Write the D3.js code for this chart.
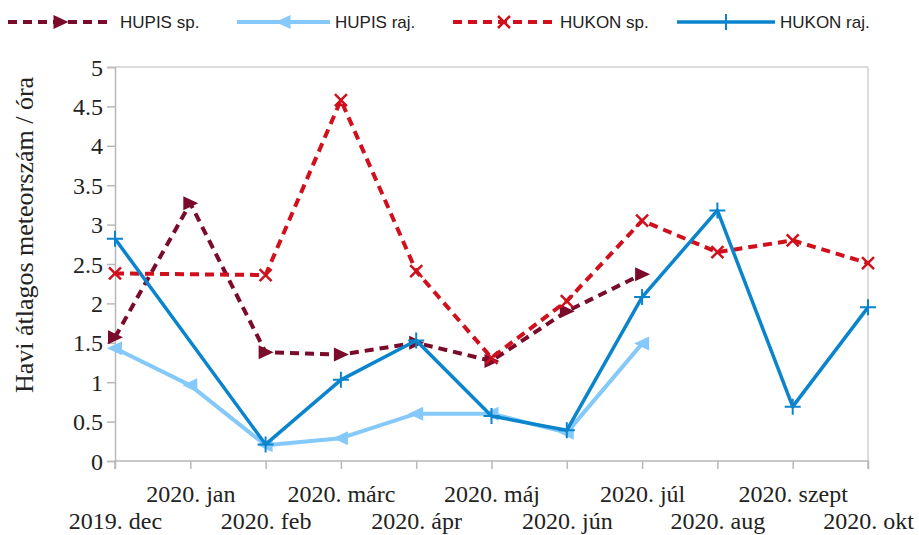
<!DOCTYPE html>
<html><head><meta charset="utf-8">
<script src="https://cdn.jsdelivr.net/npm/d3@7"></script>
<style>body{margin:0;background:#fff}svg{display:block}</style>
</head><body><svg id="c" width="919" height="535"></svg>
<script>
const months = ["2019. dec","2020. jan","2020. feb","2020. márc","2020. ápr","2020. máj","2020. jún","2020. júl","2020. aug","2020. szept","2020. okt"];
const hupisSp  = [1.57, 3.27, 1.38, 1.35, 1.50, 1.27, 1.90, 2.37, null, null, null];
const hupisRaj = [1.43, 0.96, 0.20, 0.29, 0.60, 0.60, 0.36, 1.49, null, null, null];
const hukonSp  = [2.38, null, 2.36, 4.58, 2.41, 1.31, 2.03, 3.05, 2.65, 2.80, 2.51];
const hukonRaj = [2.82, null, 0.21, 1.03, 1.53, 0.57, 0.39, 2.08, 3.18, 0.69, 1.95];
const yTicks = [0,0.5,1,1.5,2,2.5,3,3.5,4,4.5,5];
const yTitle = "Havi átlagos meteorszám / óra";

const series = [
  {name:"HUPIS sp.",  values:hupisSp,  color:"#7a0b2b", dash:"9,6", width:4, marker:"triR"},
  {name:"HUPIS raj.", values:hupisRaj, color:"#85c9fb", dash:null, width:4, marker:"triL"},
  {name:"HUKON sp.",  values:hukonSp,  color:"#d0101c", dash:"9,6", width:4, marker:"x"},
  {name:"HUKON raj.", values:hukonRaj, color:"#0a84cc", dash:null, width:3.5, marker:"plus"}
];

const svg = d3.select("#c");
const L=115, R=868, T=67, B=461;
const x = d3.scalePoint().domain(months).range([L,R]);
const y = d3.scaleLinear().domain([0,5]).range([B,T]);
const axisColor = "#b8b8b8";

// frame
svg.append("line").attr("x1",L).attr("x2",R).attr("y1",T).attr("y2",T).attr("stroke","#d0d0d0").attr("stroke-width",1.5);
svg.append("line").attr("x1",R).attr("x2",R).attr("y1",T).attr("y2",B).attr("stroke","#d0d0d0").attr("stroke-width",1.5);

// y axis
const ya = svg.append("g").attr("transform",`translate(${L},0)`)
  .call(d3.axisLeft(y).tickValues(yTicks).tickSize(8).tickPadding(4).tickFormat(d3.format("")));
ya.select(".domain").attr("stroke",axisColor).attr("stroke-width",1.5);
ya.selectAll(".tick line").attr("stroke",axisColor).attr("stroke-width",1.5);
ya.selectAll("text").attr("font-family","Liberation Serif").attr("font-size",24).attr("fill","#222").attr("dy","0.34em");

// x axis
const xa = svg.append("g").attr("transform",`translate(0,${B})`)
  .call(d3.axisBottom(x).tickSize(8).tickPadding(0));
xa.select(".domain").attr("stroke",axisColor).attr("stroke-width",1.5).attr("d",`M${L},8V0H${R}V8`);
xa.selectAll(".tick line").attr("stroke",axisColor).attr("stroke-width",1.5);
xa.selectAll("text").attr("font-family","Liberation Serif").attr("font-size",24).attr("fill","#222")
  .attr("dy",null).attr("y",(d,i)=> i%2===1 ? 41 : 68);

// y title
svg.append("text").attr("transform","translate(33,235) rotate(-90)").attr("text-anchor","middle")
  .attr("font-family","Liberation Serif").attr("font-size",26).attr("fill","#222").text(yTitle);

function drawMarker(g, type, color, cx, cy){
  if(type==="triR"){
    g.append("path").attr("d",`M${cx-7},${cy-7}L${cx+8},${cy}L${cx-7},${cy+7}Z`).attr("fill",color);
  } else if(type==="triL"){
    g.append("path").attr("d",`M${cx+7},${cy-7}L${cx-8},${cy}L${cx+7},${cy+7}Z`).attr("fill",color);
  } else if(type==="x"){
    g.append("path").attr("d",`M${cx-6},${cy-6}L${cx+6},${cy+6}M${cx-6},${cy+6}L${cx+6},${cy-6}`)
      .attr("stroke",color).attr("stroke-width",2.5).attr("fill","none");
  } else if(type==="plus"){
    g.append("path").attr("d",`M${cx-8},${cy}L${cx+8},${cy}M${cx},${cy-8}L${cx},${cy+8}`)
      .attr("stroke",color).attr("stroke-width",2).attr("fill","none");
  }
}

const line = d3.line().x(d=>x(d.m)).y(d=>y(d.v));
const plot = svg.append("g");
series.forEach(s=>{
  const pts = months.map((m,i)=>({m, v:s.values[i]})).filter(d=>d.v!==null);
  const p = plot.append("path").datum(pts).attr("d",line).attr("fill","none")
    .attr("stroke",s.color).attr("stroke-width",s.width).attr("stroke-linejoin","round");
  if(s.dash) p.attr("stroke-dasharray",s.dash);
  const mg = plot.append("g");
  pts.forEach(d=>drawMarker(mg, s.marker, s.color, x(d.m), y(d.v)));
});

// legend
const legPos = [{x1:8,x2:113,tx:120},{x1:237,x2:330,tx:335},{x1:453,x2:555,tx:560},{x1:677,x2:775,tx:780}];
const ly = 22;
series.forEach((s,i)=>{
  const p = legPos[i];
  const g = svg.append("g");
  const l = g.append("line").attr("x1",p.x1).attr("x2",p.x2).attr("y1",ly).attr("y2",ly)
    .attr("stroke",s.color).attr("stroke-width",s.width);
  if(s.dash) l.attr("stroke-dasharray",s.dash);
  drawMarker(g, s.marker, s.color, (p.x1+p.x2)/2, ly);
  g.append("text").attr("x",p.tx).attr("y",ly).attr("dy","0.35em")
    .attr("font-family","Liberation Sans").attr("font-size",17).attr("fill","#222").text(s.name);
});
</script></body></html>
